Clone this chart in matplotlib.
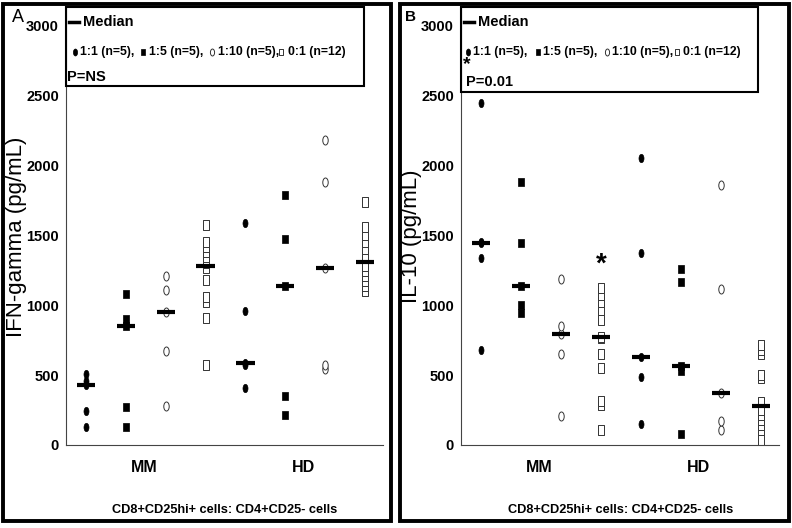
import numpy as np
import matplotlib.pyplot as plt
from matplotlib.path import Path
from matplotlib.patches import Rectangle

plt.rcParams['font.family'] = ['Liberation Sans', 'DejaVu Sans']

# groups along x: MM 1:1, 1:5, 1:10, 0:1, then HD 1:1, 1:5, 1:10, 0:1
ratio_labels = ['1:1 (n=5),', '1:5 (n=5),', '1:10 (n=5),', '0:1 (n=12)']
group_labels = ['MM', 'HD']

# IFN-gamma (pg/mL)
ifn_mm_11 = [130, 245, 431, 460, 505]
ifn_mm_15 = [131, 269, 850, 900, 1078]
ifn_mm_110 = [281, 674, 948, 1107, 1205]
ifn_mm_01 = [571, 905, 1024, 1055, 1179, 1262, 1298, 1345, 1381, 1417, 1452, 1571]
ifn_hd_11 = [407, 570, 583, 955, 1590]
ifn_hd_15 = [214, 348, 1138, 1469, 1786]
ifn_hd_110 = [540, 575, 1264, 1881, 2179]
ifn_hd_01 = [1100, 1135, 1170, 1205, 1240, 1280, 1340, 1400, 1450, 1500, 1560, 1740]

# IL-10 (pg/mL)
il10_mm_11 = [679, 1334, 1445, 1450, 2445]
il10_mm_15 = [940, 1000, 1138, 1440, 1881]
il10_mm_110 = [209, 650, 793, 852, 1186]
il10_mm_01 = [107, 286, 314, 552, 648, 765, 775, 893, 964, 1024, 1071, 1119]
il10_hd_11 = [150, 483, 626, 1374, 2048]
il10_hd_15 = [79, 530, 567, 1162, 1257]
il10_hd_110 = [107, 174, 371, 1114, 1857]
il10_hd_01 = [36, 107, 143, 179, 214, 250, 309, 476, 500, 650, 679, 714]

ifn = [ifn_mm_11, ifn_mm_15, ifn_mm_110, ifn_mm_01, ifn_hd_11, ifn_hd_15, ifn_hd_110, ifn_hd_01]
il10 = [il10_mm_11, il10_mm_15, il10_mm_110, il10_mm_01, il10_hd_11, il10_hd_15, il10_hd_110, il10_hd_01]

# marker shapes: tall ellipse and tall rectangle
circ = Path.unit_circle()
ellipse = Path(circ.vertices * np.array([0.6, 1.0]), circ.codes)
rect = Path([(-0.35, -0.5), (0.35, -0.5), (0.35, 0.5), (-0.35, 0.5), (-0.35, -0.5)],
            [Path.MOVETO, Path.LINETO, Path.LINETO, Path.LINETO, Path.CLOSEPOLY])
styles = [
    dict(marker=ellipse, markerfacecolor='black', markeredgecolor='black', markeredgewidth=0.5),
    dict(marker=rect, markerfacecolor='black', markeredgecolor='black', markeredgewidth=0.5),
    dict(marker=ellipse, markerfacecolor='white', markeredgecolor='#333333', markeredgewidth=0.7),
    dict(marker=rect, markerfacecolor='white', markeredgecolor='#333333', markeredgewidth=0.7),
]
sizes = [6, 6, 6.5, 6.5]


def draw_panel(ax, data):
    for i, vals in enumerate(data):
        x = i + 1
        ax.plot([x] * len(vals), vals, linestyle='none', zorder=2,
                markersize=sizes[i % 4], **styles[i % 4])
        m = np.median(vals)
        ax.hlines(m, x - 0.23, x + 0.23, color='black', linewidth=3, zorder=3)
    ax.set_xlim(0.5, 8.45)
    ax.set_ylim(0, 3130)
    ax.set_yticks(np.arange(0, 3001, 500))
    ax.set_yticklabels([str(v) for v in range(0, 3001, 500)], fontsize=10.5, fontweight='bold')
    ax.set_xticks([2.45, 6.45])
    ax.set_xticklabels(group_labels, fontsize=11.5, fontweight='bold')
    ax.tick_params(length=0, pad=5)
    ax.tick_params(axis='x', pad=11)
    for s in ['top', 'right']:
        ax.spines[s].set_visible(False)
    for s in ['left', 'bottom']:
        ax.spines[s].set_linewidth(0.8)
        ax.spines[s].set_color('#444444')


fig = plt.figure(figsize=(7.92, 5.28), dpi=100)
W, H = 792.0, 528.0

axA = fig.add_axes([66 / W, 1 - 445 / H, (383 - 66) / W, (445 - 7) / H])
draw_panel(axA, ifn)
axB = fig.add_axes([461 / W, 1 - 445 / H, (779 - 461) / W, (445 - 7) / H])
draw_panel(axB, il10)
axB.text(4, 1290, '*', ha='center', va='center', fontsize=20, fontweight='bold')

# overlay in pixel units for frames, legends and labels
ov = fig.add_axes([0, 0, 1, 1])
ov.set_xlim(0, W)
ov.set_ylim(H, 0)
ov.axis('off')

for x0, x1 in [(2.5, 390.5), (400, 788.5)]:
    ov.add_patch(Rectangle((x0, 4), x1 - x0, 517, fill=False, edgecolor='black', linewidth=2.8))

ov.text(17, 237, 'IFN-gamma (pg/mL)', rotation=90, ha='center', va='center', fontsize=16)
ov.text(412, 236, 'IL-10 (pg/mL)', rotation=90, ha='center', va='center', fontsize=16)
ov.text(18, 18, 'A', ha='center', va='center', fontsize=13)
ov.text(411, 17, 'B', ha='center', va='center', fontsize=11, fontweight='bold')

for cx in [225, 621]:
    ov.text(cx, 510, 'CD8+CD25hi+ cells: CD4+CD25- cells', ha='center', va='center',
            fontsize=9.2, fontweight='bold')

# legend boxes: (box left, box right, box bottom, marker x list, text x list, p text, p x, p y)
legends = [
    (66, 364, 86, [75, 143, 212, 281], [80, 149, 218, 288], 'P=NS', 67, 77),
    (461, 758, 92, [468, 538, 607, 677], [473, 543, 612, 683], 'P=0.01', 466, 82),
]
for bx0, bx1, by1, mxs, txs, ptxt, px, py in legends:
    ov.add_patch(Rectangle((bx0, 7), bx1 - bx0, by1 - 7, fill=False, edgecolor='black', linewidth=1.5))
    ov.plot([bx0 + 3, bx0 + 13], [22, 22], color='black', linewidth=2.5)
    ov.text(bx0 + 17, 22, 'Median', ha='left', va='center', fontsize=10.5, fontweight='bold')
    for k in range(4):
        ov.plot(mxs[k], 52, linestyle='none', markersize=5, **styles[k])
        ov.text(txs[k], 52, ratio_labels[k], ha='left', va='center', fontsize=8.8, fontweight='bold')
    ov.text(px, py, ptxt, ha='left', va='center', fontsize=10.5, fontweight='bold')
ov.text(463, 65, '*', ha='left', va='center', fontsize=14, fontweight='bold')

fig.savefig('out.png', dpi=100)
